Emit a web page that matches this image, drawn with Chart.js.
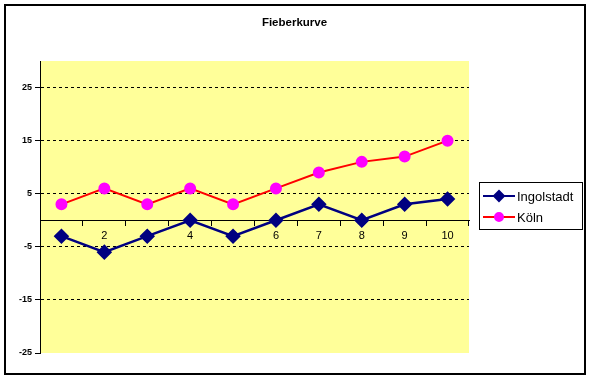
<!DOCTYPE html>
<html>
<head>
<meta charset="utf-8">
<script src="https://cdn.jsdelivr.net/npm/chart.js@4/dist/chart.umd.min.js"></script>
<style>
  html, body { margin: 0; padding: 0; background: #ffffff; }
  #wrap { width: 589px; height: 378px; }
</style>
</head>
<body>
<div id="wrap"><canvas id="fieber" width="589" height="378"></canvas></div>
<script>
// chart data
const days = ["1", "2", "3", "4", "5", "6", "7", "8", "9", "10"];
const ingolstadt = [-3, -6, -3, 0, -3, 0, 3, 0, 3, 4];
const koeln = [3, 6, 3, 6, 3, 6, 9, 11, 12, 15];
const yTicks = [-25, -15, -5, 5, 15, 25];
const chartTitle = "Fieberkurve";

// yellow plot area, title over the whole canvas, outer frame
const frame = {
    id: "frame",
    beforeDraw(chart) {
        const { ctx, chartArea: a } = chart;
        ctx.save();
        ctx.fillStyle = "#FFFF99";
        ctx.fillRect(a.left, a.top, a.right - a.left, a.bottom - a.top);
        ctx.fillStyle = "#000000";
        ctx.font = "bold 11.5px 'Liberation Sans', Arial, sans-serif";
        ctx.textAlign = "center";
        ctx.textBaseline = "middle";
        ctx.fillText(chartTitle, chart.width / 2, 23);
        ctx.restore();
    },
    afterDraw(chart) {
        const ctx = chart.ctx;
        ctx.save();
        ctx.strokeStyle = "#000000";
        ctx.lineWidth = 2;
        ctx.strokeRect(5, 5, 580, 369);
        ctx.restore();
    }
};

// excel style legend box with line + marker symbols
const boxLegend = {
    id: "boxLegend",
    afterDraw(chart) {
        const ctx = chart.ctx;
        const x = 479, y = 182, w = 103, h = 47;
        ctx.save();
        ctx.fillStyle = "#ffffff";
        ctx.fillRect(x, y, w, h);
        ctx.strokeStyle = "#000000";
        ctx.lineWidth = 1;
        ctx.strokeRect(x + 0.5, y + 0.5, w, h);
        chart.data.datasets.forEach((ds, i) => {
            const ly = y + 14 + i * 21;
            ctx.strokeStyle = ds.borderColor;
            ctx.lineWidth = 2;
            ctx.beginPath();
            ctx.moveTo(x + 4, ly);
            ctx.lineTo(x + 36, ly);
            ctx.stroke();
            ctx.fillStyle = ds.pointBackgroundColor;
            ctx.strokeStyle = ds.pointBorderColor;
            Chart.helpers.drawPoint(ctx, {
                pointStyle: ds.pointStyle,
                radius: ds.pointRadius - 1,
                rotation: 0,
                borderWidth: 1
            }, x + 20, ly);
            ctx.fillStyle = "#000000";
            ctx.font = "13px 'Liberation Sans', Arial, sans-serif";
            ctx.textBaseline = "middle";
            ctx.fillText(ds.label, x + 38, ly + 1);
        });
        ctx.restore();
    }
};

new Chart(document.getElementById("fieber"), {
    type: "line",
    data: {
        labels: days,
        datasets: [
            {
                label: "Ingolstadt",
                data: ingolstadt,
                borderColor: "#000080",
                borderWidth: 2.5,
                pointStyle: "rectRot",
                pointRadius: 6,
                pointBackgroundColor: "#000080",
                pointBorderColor: "#000080",
                tension: 0
            },
            {
                label: "Köln",
                data: koeln,
                borderColor: "#FF0000",
                borderWidth: 2,
                pointStyle: "circle",
                pointRadius: 5,
                pointBackgroundColor: "#FF00FF",
                pointBorderColor: "#FF00FF",
                tension: 0
            }
        ]
    },
    options: {
        responsive: false,
        animation: false,
        layout: { padding: { left: 0, right: 120, top: 61, bottom: 25 } },
        plugins: {
            legend: { display: false },
            tooltip: { enabled: false },
            title: { display: false }
        },
        scales: {
            x: {
                type: "category",
                position: { y: 0 },
                offset: true,
                afterFit: scale => { scale.height = 0; },
                grid: { drawOnChartArea: false, drawTicks: true, tickLength: 5, color: "#000000", offset: true },
                border: { display: true, color: "#000000", width: 1 },
                ticks: {
                    color: "#000000",
                    maxRotation: 0,
                    autoSkip: false,
                    padding: 4,
                    font: { family: "'Liberation Sans', Arial, sans-serif", size: 11 }
                }
            },
            y: {
                min: -25,
                max: 30,
                afterBuildTicks: scale => { scale.ticks = yTicks.map(v => ({ value: v })); },
                afterFit: scale => { scale.width = 40; },
                grid: {
                    color: c => (c.tick && c.tick.value === -25 ? "rgba(0,0,0,0)" : "#000000"),
                    tickColor: "#000000",
                    tickLength: 5,
                    lineWidth: 1
                },
                border: { display: true, color: "#000000", width: 1, dash: [3, 3] },
                ticks: {
                    color: "#000000",
                    padding: 3,
                    font: { family: "'Liberation Sans', Arial, sans-serif", size: 9, weight: "bold" }
                }
            }
        }
    },
    plugins: [frame, boxLegend]
});
</script>
</body>
</html>
